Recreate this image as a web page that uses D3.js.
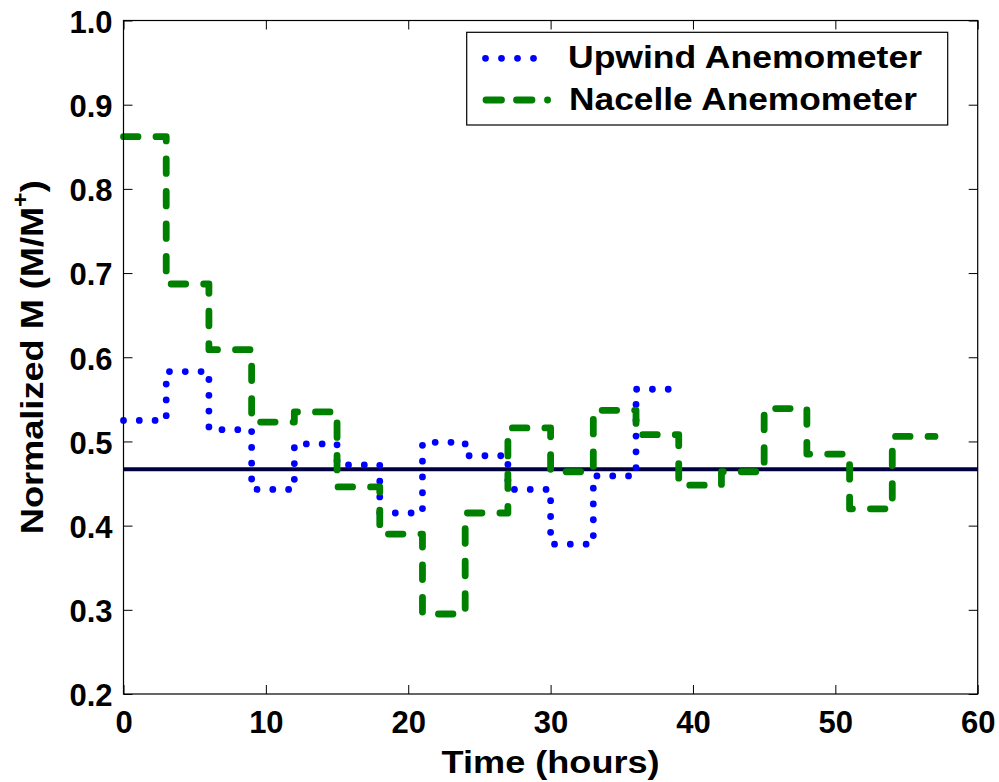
<!DOCTYPE html>
<html>
<head>
<meta charset="utf-8">
<script src="https://cdn.jsdelivr.net/npm/d3@7/dist/d3.min.js"></script>
<style>
  html, body { margin: 0; padding: 0; background: #fff; }
  svg { display: block; }
  text { font-family: "Liberation Sans", Arial, Helvetica, sans-serif; font-weight: bold; }
</style>
</head>
<body>
<svg id="chart" width="999" height="782"></svg>
<script>
// ---- Data ----
const upwindStart  = [0, 3, 6, 9, 12, 15, 18, 21, 24, 27, 30, 33, 36];
const upwindValues = [0.525, 0.583, 0.514, 0.443, 0.497, 0.472, 0.415, 0.499, 0.483, 0.443, 0.378, 0.459, 0.562];
const upwindEnd = 39;

const nacelleStart  = [0, 3, 6, 9, 12, 15, 18, 21, 24, 27, 30, 33, 36, 39, 42, 45, 48, 51, 54];
const nacelleValues = [0.862, 0.687, 0.609, 0.523, 0.535, 0.446, 0.390, 0.295, 0.415, 0.516, 0.464, 0.537, 0.508, 0.448, 0.464, 0.539, 0.485, 0.420, 0.506];
const nacelleEnd = 57;

const referenceValue = 0.467;

const xTicks = [0, 10, 20, 30, 40, 50, 60];
const yTicks = [0.2, 0.3, 0.4, 0.5, 0.6, 0.7, 0.8, 0.9, 1.0];
const seriesNames = ["Upwind Anemometer", "Nacelle Anemometer"];

// ---- Layout ----
const svg = d3.select("#chart");
const L = 123.5, R = 977.7, T = 20.5, B = 694;
const x = d3.scaleLinear().domain([0, 60]).range([L, R]);
const y = d3.scaleLinear().domain([0.2, 1.0]).range([B, T]);

const blue = "#0000ff", green = "#008000", navy = "#000040";

svg.append("rect").attr("x", L).attr("y", T).attr("width", R - L).attr("height", B - T)
  .attr("fill", "#fff");

const toPts = (starts, vals, end) => starts.map((s, i) => [s, vals[i]]).concat([[end, vals[vals.length - 1]]]);
const line = d3.line().x(d => x(d[0])).y(d => y(d[1])).curve(d3.curveStepAfter);

svg.append("line")
  .attr("x1", x(0)).attr("x2", x(60))
  .attr("y1", y(referenceValue)).attr("y2", y(referenceValue))
  .attr("stroke", navy).attr("stroke-width", 4);

svg.append("path").datum(toPts(upwindStart, upwindValues, upwindEnd))
  .attr("d", line).attr("fill", "none")
  .attr("stroke", blue).attr("stroke-width", 6.8)
  .attr("stroke-linecap", "round").attr("stroke-linejoin", "round")
  .attr("stroke-dasharray", "0 15.8");

svg.append("path").datum(toPts(nacelleStart, nacelleValues, nacelleEnd))
  .attr("d", line).attr("fill", "none")
  .attr("stroke", green).attr("stroke-width", 6.8)
  .attr("stroke-linecap", "round").attr("stroke-linejoin", "round")
  .attr("stroke-dasharray", "14.5 18");

// axes
const fs = 31;
const gx = svg.append("g").attr("transform", `translate(0,${B})`)
  .call(d3.axisBottom(x).tickValues(xTicks).tickFormat(d3.format("d")).tickSize(-9).tickSizeOuter(0).tickPadding(15));
const gy = svg.append("g").attr("transform", `translate(${L},0)`)
  .call(d3.axisLeft(y).tickValues(yTicks).tickFormat(d3.format(".1f")).tickSize(-9).tickSizeOuter(0).tickPadding(11));
const gt = svg.append("g").attr("transform", `translate(0,${T})`)
  .call(d3.axisTop(x).tickValues(xTicks).tickFormat("").tickSize(-9).tickSizeOuter(0));
const gr = svg.append("g").attr("transform", `translate(${R},0)`)
  .call(d3.axisRight(y).tickValues(yTicks).tickFormat("").tickSize(-9).tickSizeOuter(0));

[gx, gy, gt, gr].forEach(g => {
  g.select(".domain").remove();
  g.selectAll(".tick line").attr("stroke", "#000").attr("stroke-width", 1);
  g.selectAll(".tick text").attr("font-size", fs).attr("fill", "#000")
    .attr("font-family", "'Liberation Sans', Arial, sans-serif").attr("font-weight", "bold");
});
gx.selectAll(".tick text").attr("dy", "0.76em");
gy.selectAll(".tick text").attr("dy", "0.38em");

svg.append("rect").attr("x", L).attr("y", T).attr("width", R - L).attr("height", B - T)
  .attr("fill", "none").attr("stroke", "#000").attr("stroke-width", 1.2);

// axis titles
svg.append("text").attr("x", x(30)).attr("y", 772.7).attr("text-anchor", "middle")
  .attr("font-size", 32).attr("textLength", 218).attr("lengthAdjust", "spacingAndGlyphs")
  .text("Time (hours)");

const yl = svg.append("text")
  .attr("transform", `translate(42.5,${(T + B) / 2}) rotate(-90) scale(1.13,1)`)
  .attr("text-anchor", "middle").attr("font-size", 32);
yl.append("tspan").text("Normalized M (M/M");
yl.append("tspan").attr("font-size", 22).attr("dy", -15).text("+");
yl.append("tspan").attr("dy", 15).text(")");

// legend
const lg = svg.append("g");
lg.append("rect").attr("x", 466.7).attr("y", 32.3).attr("width", 481).attr("height", 92.7)
  .attr("fill", "#fff").attr("stroke", "#000").attr("stroke-width", 1.2);
lg.append("path").attr("d", d3.line()([[485.5, 58.3], [534, 58.3]]))
  .attr("stroke", blue).attr("stroke-width", 6.8).attr("stroke-linecap", "round")
  .attr("stroke-dasharray", "0 16").attr("fill", "none");
lg.append("path").attr("d", d3.line()([[486, 100], [552, 100]]))
  .attr("stroke", green).attr("stroke-width", 6.8).attr("stroke-linecap", "round")
  .attr("stroke-dasharray", "15.5 15 15.5 15.5 0.1 40").attr("fill", "none");
lg.append("text").attr("x", 568).attr("y", 68.3).attr("font-size", 31)
  .attr("textLength", 354).attr("lengthAdjust", "spacingAndGlyphs").text(seriesNames[0]);
lg.append("text").attr("x", 569).attr("y", 110).attr("font-size", 31)
  .attr("textLength", 348).attr("lengthAdjust", "spacingAndGlyphs").text(seriesNames[1]);
</script>
</body>
</html>
